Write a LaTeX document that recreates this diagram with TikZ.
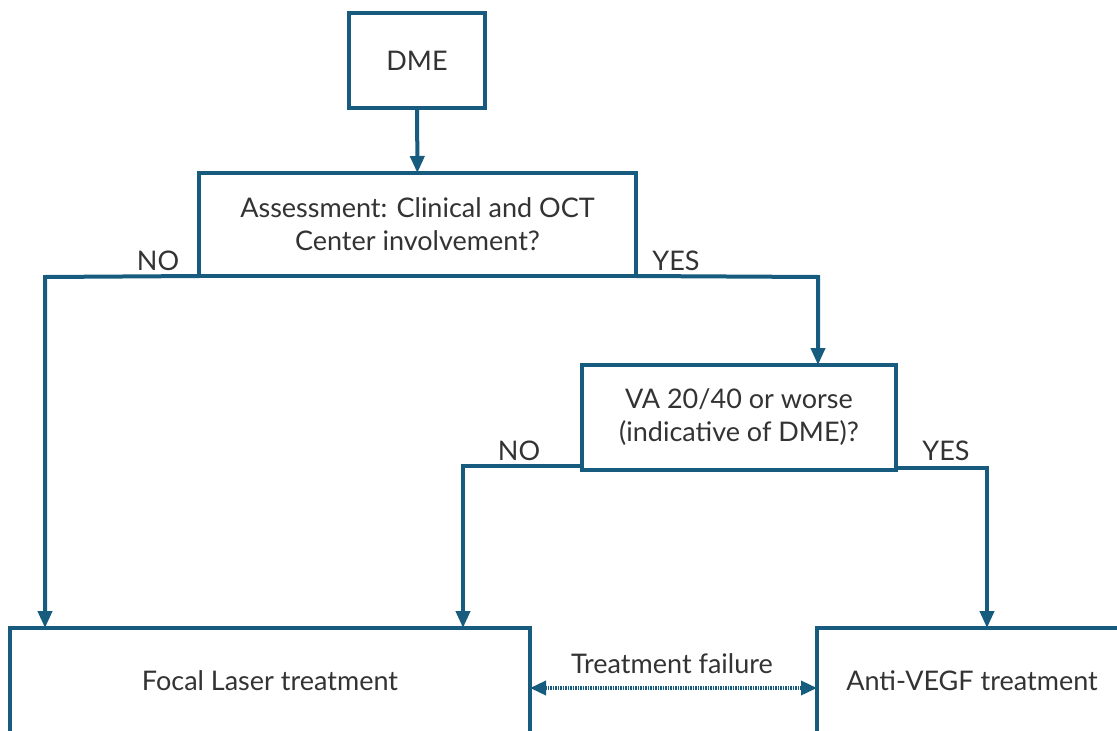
\documentclass[tikz,border=0pt]{standalone}
\usepackage{fontspec}
\setmainfont{Lato}
\usetikzlibrary{arrows.meta}
\definecolor{flowblue}{HTML}{175C7E}
\definecolor{txtgray}{HTML}{333333}

\begin{document}
\begin{tikzpicture}[x=1pt,y=-1pt,
  box/.style={draw=flowblue, line width=4pt, fill=white, text=txtgray, align=center, inner sep=0pt, outer sep=0pt},
  flow/.style={draw=flowblue, line width=4pt, -{Triangle[length=17pt,width=14pt]}},
  lbl/.style={text=txtgray, inner sep=0pt},
  font=\fontsize{27}{33}\selectfont]
\path[use as bounding box] (0,0) rectangle (1117,731);
\clip (0,0) rectangle (1117,731);
\node[box, minimum width=136pt, minimum height=95pt] (dme) at (417,60.5) {DME};
\node[box, minimum width=437pt, minimum height=103pt] (assess) at (417.5,224.5) {Assessment: Clinical and OCT\\Center involvement?};
\node[box, minimum width=314pt, minimum height=105pt] (va) at (739,417.5) {VA 20/40 or worse\\(indicative of DME)?};
\node[box, minimum width=520pt, minimum height=106pt] (focal) at (270,681) {Focal Laser treatment};
\node[box, minimum width=310pt, minimum height=106pt] (antivegf) at (972,681) {Anti-VEGF treatment};
\coordinate (noa) at (45,277);
\coordinate (yesa) at (818,277);
\coordinate (nob) at (463,466);
\coordinate (yesb) at (987,468);
\coordinate (tf) at (0,688);
\draw[flow](dme) -- (assess);
\draw[flow](assess.south west) -- (noa) -- (noa |- focal.north);
\draw[flow](assess.south east) -- (yesa) -- (yesa |- va.north);
\draw[flow](va.west |- nob) -- (nob) -- (nob |- focal.north);
\draw[flow](va.east |- yesb) -- (yesb) -- (yesb |- antivegf.north);
\node[lbl] (no1) at (158,261) {NO};
\node[lbl] (yes1) at (676,261) {YES};
\node[lbl] (no2) at (519,451) {NO};
\node[lbl] (yes2) at (946,451) {YES};
\node[lbl] (fail) at (672,664) {Treatment failure};
\draw[flowblue, line width=3.5pt, dash pattern=on 1.5pt off 1pt, {Triangle[length=16pt,width=14pt]}-{Triangle[length=16pt,width=14pt]}](focal.east |- tf) -- (antivegf.west |- tf);

\end{tikzpicture}
\end{document}
